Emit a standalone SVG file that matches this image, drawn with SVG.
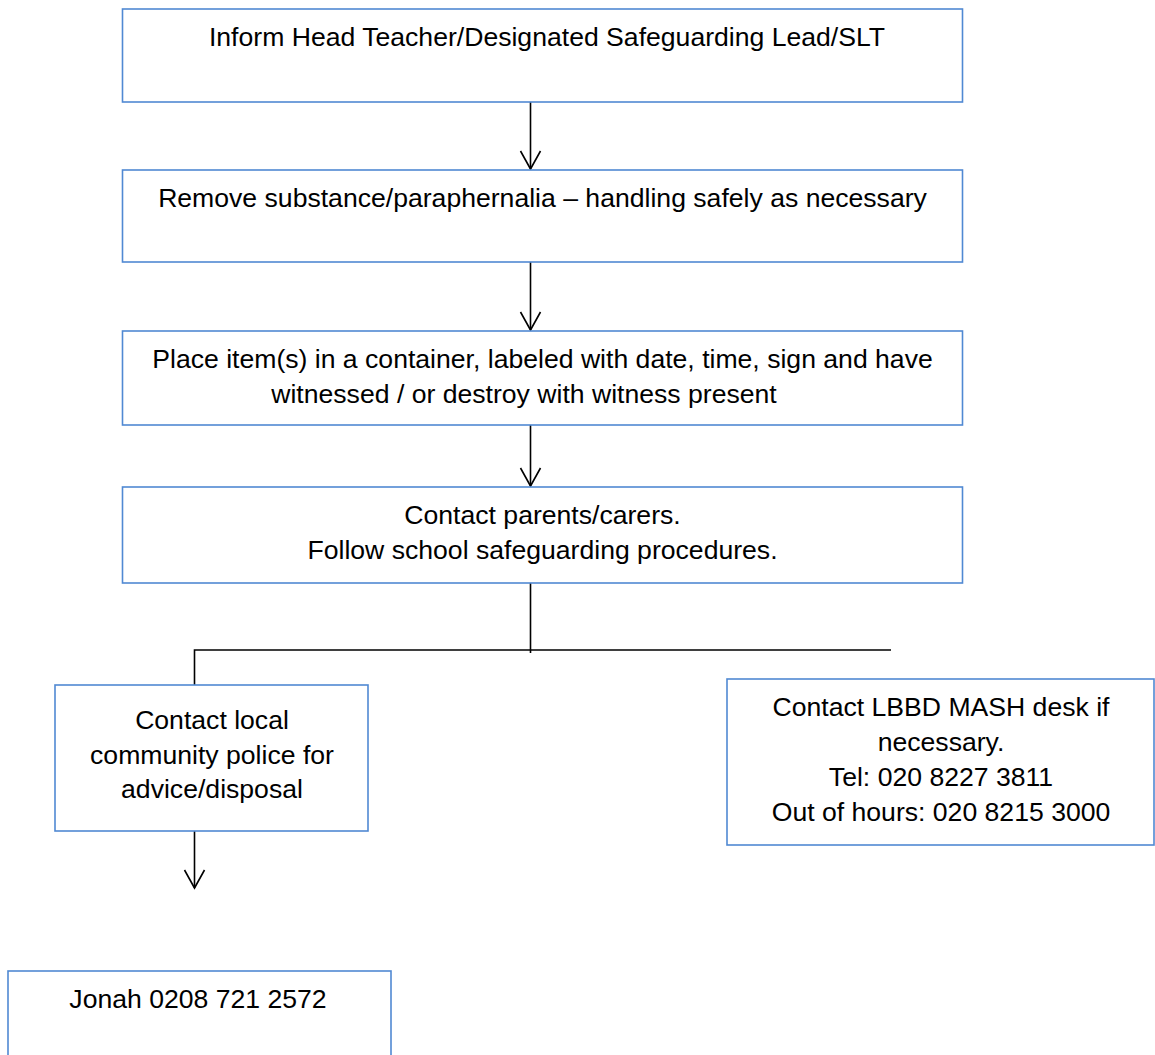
<svg xmlns="http://www.w3.org/2000/svg" width="1155" height="1055" viewBox="0 0 1155 1055">
<style>
.box{fill:#ffffff;stroke:#5089D3;stroke-width:1.6}
.t{font-family:"Liberation Sans",Arial,sans-serif;font-size:26.6px;fill:#000;text-anchor:middle}
.ln{stroke:#000;stroke-width:1.6;fill:none}
</style>
<rect width="1155" height="1055" fill="#fff"/>
<g id="connectors">
<line class="ln" x1="530.5" y1="102" x2="530.5" y2="169"/>
<path class="ln" d="M520.5,151 L530.5,169 L540.5,151"/>
<line class="ln" x1="530.5" y1="262" x2="530.5" y2="330"/>
<path class="ln" d="M520.5,312 L530.5,330 L540.5,312"/>
<line class="ln" x1="530.5" y1="425" x2="530.5" y2="486"/>
<path class="ln" d="M520.5,468 L530.5,486 L540.5,468"/>
<line class="ln" x1="530.5" y1="583" x2="530.5" y2="653"/>
<polyline class="ln" points="194.5,685 194.5,650 891,650"/>
<line class="ln" x1="194.5" y1="831" x2="194.5" y2="888"/>
<path class="ln" d="M184.5,870 L194.5,888 L204.5,870"/>
</g>
<g id="n1">
<rect class="box" x="122.5" y="9" width="840" height="93"/>
<text class="t" x="547" y="46">Inform Head Teacher/Designated Safeguarding Lead/SLT</text>
</g>
<g id="n2">
<rect class="box" x="122.5" y="170" width="840" height="92"/>
<text class="t" x="542.5" y="207">Remove substance/paraphernalia – handling safely as necessary</text>
</g>
<g id="n3">
<rect class="box" x="122.5" y="331" width="840" height="94"/>
<text class="t" x="542.5" y="368">Place item(s) in a container, labeled with date, time, sign and have</text>
<text class="t" x="524" y="403">witnessed / or destroy with witness present</text>
</g>
<g id="n4">
<rect class="box" x="122.5" y="487" width="840" height="96"/>
<text class="t" x="542.5" y="524">Contact parents/carers.</text>
<text class="t" x="542.5" y="559">Follow school safeguarding procedures.</text>
</g>
<g id="n5">
<rect class="box" x="55" y="685" width="313" height="146"/>
<text class="t" x="212" y="729">Contact local</text>
<text class="t" x="212" y="764">community police for</text>
<text class="t" x="212" y="798">advice/disposal</text>
</g>
<g id="n6">
<rect class="box" x="727" y="679" width="427" height="166"/>
<text class="t" x="941" y="716">Contact LBBD MASH desk if</text>
<text class="t" x="941" y="751">necessary.</text>
<text class="t" x="941" y="786">Tel: 020 8227 3811</text>
<text class="t" x="941" y="821">Out of hours: 020 8215 3000</text>
</g>
<g id="n7">
<rect class="box" x="8" y="971" width="383" height="100"/>
<text class="t" x="198" y="1008">Jonah 0208 721 2572</text>
</g>
</svg>
